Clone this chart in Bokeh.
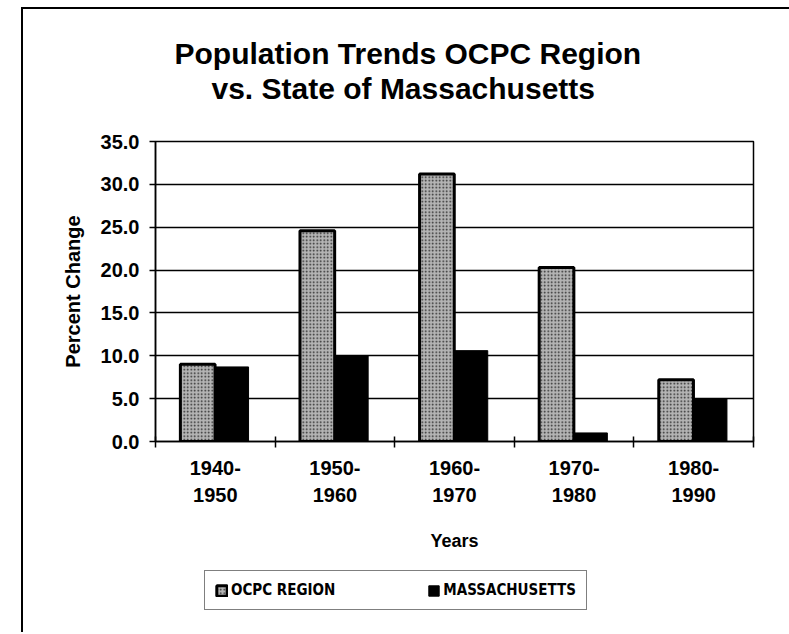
from bokeh.plotting import figure
from bokeh.layouts import column
from bokeh.models import (FixedTicker, Title, Legend, LegendItem,
                          PrintfTickFormatter, Range1d)
from bokeh.embed import file_html
from bokeh.resources import INLINE

# ---- data ----
periods = ["1940-\n1950", "1950-\n1960", "1960-\n1970", "1970-\n1980", "1980-\n1990"]
ocpc_region = [9.0, 24.6, 31.2, 20.3, 7.2]
massachusetts = [8.7, 10.0, 10.6, 1.0, 5.0]
y_ticks = [0, 5, 10, 15, 20, 25, 30, 35]
series_names = ["OCPC REGION", "MASSACHUSETTS"]
title_lines = ["Population Trends OCPC Region", "vs. State of Massachusetts"]

# ---- layout constants (pixels) ----
W = 789
H_MAIN, H_LEG = 566, 66
FX0, FW = 155, 598
FY0, FH = 141, 300
N = len(periods)
YMAX = 35

FONT = "Liberation Sans"
NARROW = "Liberation Sans Narrow, DejaVu Sans Condensed, Liberation Sans"

OCPC_STYLE = dict(fill_color="#b4b4b4", line_color="black", line_width=3,
                  hatch_pattern="dot", hatch_color="#262626", hatch_scale=3.5,
                  hatch_weight=1.2)
MASS_STYLE = dict(fill_color="black", line_color="black", line_width=1)

p = figure(frame_width=FW, frame_height=FH,
           min_border_left=FX0, min_border_right=W - FX0 - FW,
           min_border_top=FY0, min_border_bottom=H_MAIN - FY0 - FH,
           x_range=Range1d(0, N), y_range=Range1d(0, YMAX),
           title=None,
           output_backend="svg", toolbar_location=None,
           background_fill_color="white", border_fill_alpha=0)

p.outline_line_color = "black"
p.outline_line_width = 1.5
p.outline_line_alpha = 1.0

# bars
xc = [i + 0.5 for i in range(N)]
x_ocpc = [x - 0.147 for x in xc]
x_mass = [x + 0.138 for x in xc]
r1 = p.vbar(x=x_ocpc, top=ocpc_region, width=0.29, bottom=0, **OCPC_STYLE)
r2 = p.vbar(x=x_mass, top=massachusetts, width=0.28, bottom=0, **MASS_STYLE)

# x axis
p.xaxis.ticker = FixedTicker(ticks=xc, minor_ticks=list(range(N + 1)))
p.xaxis.major_label_overrides = {x: lab for x, lab in zip(xc, periods)}
p.xaxis.major_tick_line_color = None
p.xaxis.minor_tick_line_color = "black"
p.xaxis.minor_tick_line_width = 1.5
p.xaxis.minor_tick_in = 5
p.xaxis.minor_tick_out = 6
p.xaxis.axis_line_color = "black"
p.xaxis.axis_line_width = 1.5
p.xaxis.major_label_text_font = FONT
p.xaxis.major_label_text_font_style = "bold"
p.xaxis.major_label_text_font_size = "20px"
p.xaxis.major_label_text_color = "black"
p.xaxis.major_label_text_line_height = 1.25
p.xaxis.major_label_standoff = 9
p.xaxis.axis_label = "Years"
p.xaxis.axis_label_text_font = FONT
p.xaxis.axis_label_text_font_style = "bold"
p.xaxis.axis_label_text_font_size = "18px"
p.xaxis.axis_label_text_color = "black"
p.xaxis.axis_label_standoff = 22

# y axis
p.yaxis.ticker = FixedTicker(ticks=y_ticks, minor_ticks=[])
p.yaxis.formatter = PrintfTickFormatter(format="%.1f")
p.yaxis.major_tick_in = 0
p.yaxis.major_tick_out = 6
p.yaxis.major_tick_line_width = 1.5
p.yaxis.axis_line_width = 1.5
p.yaxis.major_label_text_font = FONT
p.yaxis.major_label_text_font_style = "bold"
p.yaxis.major_label_text_font_size = "20px"
p.yaxis.major_label_text_color = "black"
p.yaxis.major_label_standoff = 10
p.yaxis.axis_label = "Percent Change"
p.yaxis.axis_label_text_font = FONT
p.yaxis.axis_label_text_font_style = "bold"
p.yaxis.axis_label_text_font_size = "20px"
p.yaxis.axis_label_text_color = "black"
p.yaxis.axis_label_standoff = 14

p.xgrid.grid_line_color = None
p.ygrid.ticker = FixedTicker(ticks=y_ticks)
p.ygrid.grid_line_color = "black"
p.ygrid.grid_line_width = 1.5

# title (two lines); titles stack outward from the frame
title_style = dict(text_font=FONT, text_font_style="bold", text_font_size="30px",
                   text_color="black")
p.add_layout(Title(text=" ", standoff=2, **title_style), "above")          # spacer
p.add_layout(Title(text=title_lines[1], align="left", offset=56, standoff=0,
                   **title_style), "above")
p.add_layout(Title(text=title_lines[0], align="left", offset=19, standoff=0,
                   **title_style), "above")

# ---- legend strip below the chart (hidden copies of the series give the swatches) ----
pl = figure(width=W, height=H_LEG, min_border=0,
            x_range=Range1d(0, N), y_range=Range1d(0, YMAX),
            output_backend="svg", toolbar_location=None,
            background_fill_alpha=0, border_fill_alpha=0)
pl.axis.visible = False
pl.grid.visible = False
pl.outline_line_color = None
l1 = pl.vbar(x=x_ocpc, top=ocpc_region, width=0.29, visible=False, **OCPC_STYLE)
l2 = pl.vbar(x=x_mass, top=massachusetts, width=0.28, visible=False, **MASS_STYLE)

legend = Legend(items=[LegendItem(label=series_names[0], renderers=[l1]),
                       LegendItem(label=series_names[1], renderers=[l2])],
                orientation="horizontal", location=(49, H_LEG - 44),
                border_line_color="black", border_line_width=1.5,
                background_fill_color="white", background_fill_alpha=1,
                padding=10, margin=0, spacing=92,
                glyph_width=13, glyph_height=13, label_standoff=3,
                label_width=100,
                label_text_font=NARROW, label_text_font_style="bold",
                label_text_font_size="15px", label_text_color="black")
pl.add_layout(legend, "center")

layout = column(p, pl, spacing=0)
# outer figure frame lines (top and left edges of the scanned figure box)
layout.stylesheets = [
    ":host { background-color: #ffffff;"
    " background-image: linear-gradient(#000, #000), linear-gradient(#000, #000);"
    " background-position: 21px 7px, 21px 7px;"
    " background-size: 2px 100%, 100% 2px;"
    " background-repeat: no-repeat, no-repeat; }"
]

open("out.html", "w").write(file_html(layout, INLINE))
